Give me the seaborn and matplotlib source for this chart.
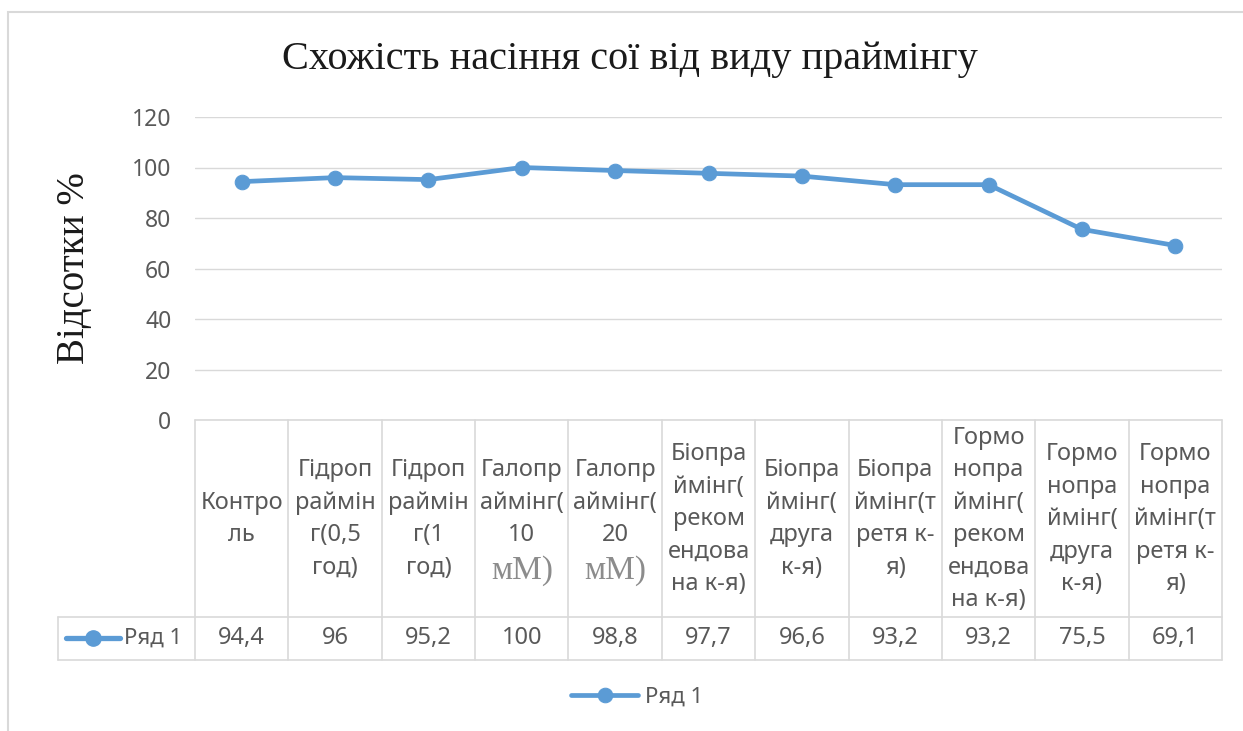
import matplotlib.pyplot as plt
import numpy as np
import pandas as pd
import seaborn as sb
from matplotlib.lines import Line2D
from matplotlib.patches import Rectangle

sb.set_style("white")
plt.rcParams['font.family'] = ['Noto Sans', 'DejaVu Sans']

# data
title = "Схожість насіння сої від виду праймінгу"
y_label = "Відсотки %"
series_name = "Ряд 1"
categories = [
    "Контро\nль",
    "Гідроп\nраймін\nг(0,5\nгод)",
    "Гідроп\nраймін\nг(1\nгод)",
    "Галопр\nаймінг(\n10\nмМ)",
    "Галопр\nаймінг(\n20\nмМ)",
    "Біопра\nймінг(\nреком\nендова\nна к-я)",
    "Біопра\nймінг(\nдруга\nк-я)",
    "Біопра\nймінг(т\nретя к-\nя)",
    "Гормо\nнопра\nймінг(\nреком\nендова\nна к-я)",
    "Гормо\nнопра\nймінг(\nдруга\nк-я)",
    "Гормо\nнопра\nймінг(т\nретя к-\nя)",
]
values = [94.4, 96, 95.2, 100, 98.8, 97.7, 96.6, 93.2, 93.2, 75.5, 69.1]
value_labels = ["94,4", "96", "95,2", "100", "98,8", "97,7", "96,6", "93,2", "93,2", "75,5", "69,1"]
y_ticks = [0, 20, 40, 60, 80, 100, 120]

BLUE = "#5B9BD5"
GRID = "#D9D9D9"
TXT = "#595959"
W, H = 1243, 731
FS = 17

fig = plt.figure(figsize=(W / 100, H / 100), dpi=100)

# outer chart frame
fig.add_artist(Rectangle((8 / W, -0.01), 1.2, 1 - 12 / H + 0.01, transform=fig.transFigure,
                         fill=False, edgecolor=GRID, lw=1.5))

# plot area
ax = fig.add_axes([195 / W, 1 - 420 / H, 1027 / W, 303 / H])
df = pd.DataFrame({"x": np.arange(len(values)), "y": values})
sb.lineplot(data=df, x="x", y="y", ax=ax, color=BLUE, lw=3.4, marker="o",
            markersize=10.5, markeredgecolor=BLUE, label=series_name, legend=False)
ax.set_xlim(-0.5, len(values) - 0.5)
ax.set_ylim(0, 120)
ax.set_yticks(y_ticks)
ax.set_yticklabels([str(t) for t in y_ticks], fontsize=16.5, color=TXT)
ax.set_xticks([])
ax.tick_params(axis="y", length=0, pad=17)
ax.grid(axis="y", color=GRID, lw=1)
for s in ax.spines.values():
    s.set_visible(False)
ax.set_xlabel("")
ax.set_ylabel("")

fig.text(630 / W, 1 - 60 / H, title, ha="center", va="center", fontsize=29,
         family="Liberation Serif", color="#1a1a1a")
fig.text(75 / W, 1 - 268 / H, y_label, ha="center", va="center", rotation=90,
         fontsize=28, family="Liberation Serif", color="#1a1a1a")

# data table under the axis
colw = 1027 / len(values)
left = -0.5 - (195 - 58) / colw
n = len(values)
tax = fig.add_axes([58 / W, 1 - 660 / H, (1222 - 58) / W, 240 / H])
tax.set_xlim(left, n - 0.5)
tax.set_ylim(240, 0)
tax.axis("off")
kw = dict(color=GRID, lw=1.2, clip_on=False)
tax.plot([-0.5, n - 0.5], [0, 0], **kw)
tax.plot([left, n - 0.5], [197, 197], **kw)
tax.plot([left, n - 0.5], [240, 240], **kw)
tax.plot([left, left], [197, 240], **kw)
for k in range(n + 1):
    tax.plot([k - 0.5, k - 0.5], [0, 240], **kw)

spacing = 32.5
for i, cat in enumerate(categories):
    lines = cat.split("\n")
    m = len(lines)
    for j, ln in enumerate(lines):
        yy = 99 + (j - (m - 1) / 2) * spacing
        if ln == "мМ)":
            tax.text(i, yy + 3, ln, ha="center", va="center", fontsize=24,
                     family="Liberation Serif", color="#8c8c8c")
        else:
            tax.text(i, yy, ln, ha="center", va="center", fontsize=FS, color=TXT)
    tax.text(i, 218, value_labels[i], ha="center", va="center", fontsize=FS, color=TXT)

# legend key in table row
fig.add_artist(Line2D([66 / W, 120 / W], [1 - 638 / H] * 2, transform=fig.transFigure,
                      color=BLUE, lw=3.8))
fig.add_artist(Line2D([93 / W], [1 - 638 / H], transform=fig.transFigure,
                      color=BLUE, marker="o", markersize=11, lw=0))
fig.text(124 / W, 1 - 638 / H, series_name, ha="left", va="center", fontsize=16, color=TXT)

handles, labels = ax.get_legend_handles_labels()
fig.legend(handles, labels, loc="center", bbox_to_anchor=(637 / W, 1 - 697 / H),
           frameon=False, fontsize=16, handlelength=3, handletextpad=0.3, labelcolor=TXT)

fig.savefig("out.png", dpi=100)
